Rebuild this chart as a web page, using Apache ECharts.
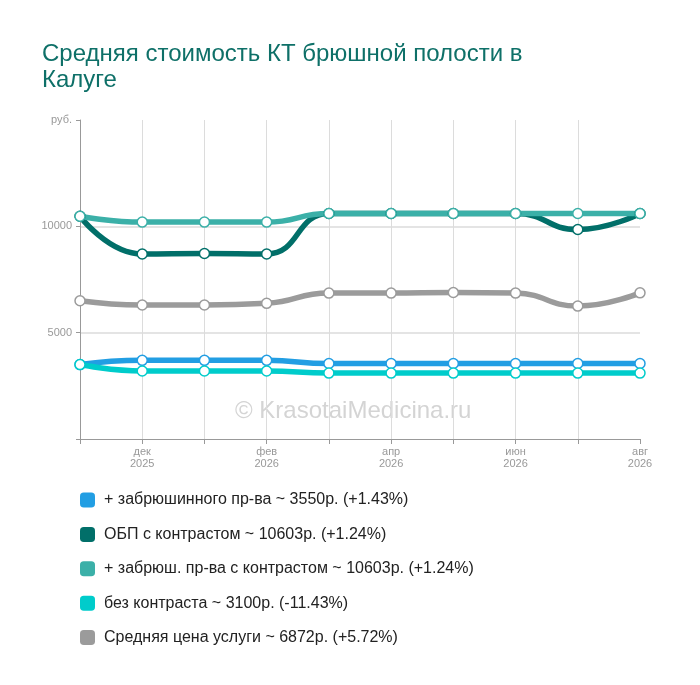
<!DOCTYPE html>
<html>
<head>
<meta charset="utf-8">
<title>КТ брюшной полости Калуга</title>
<script src="https://cdn.jsdelivr.net/npm/echarts@6/dist/echarts.min.js"></script>
<style>
  html, body { margin: 0; padding: 0; background: #fff; }
  #chart { width: 700px; height: 685px; }
</style>
</head>
<body>
<div id="chart"></div>
<script>
// месяцы по оси X
var months = ['ноя\n2025', 'дек\n2025', 'янв\n2026', 'фев\n2026', 'мар\n2026',
              'апр\n2026', 'май\n2026', 'июн\n2026', 'июл\n2026', 'авг\n2026'];

var seriesNames = [
    '+ забрюшинного пр-ва ~ 3550р. (+1.43%)',
    'ОБП с контрастом ~ 10603р. (+1.24%)',
    '+ забрюш. пр-ва с контрастом ~ 10603р. (+1.24%)',
    'без контраста ~ 3100р. (-11.43%)',
    'Средняя цена услуги ~ 6872р. (+5.72%)'
];
var seriesColors = ['#229ee3', '#016f69', '#3bb0a8', '#00cccb', '#9b9b9b'];

var retro      = [3500, 3700, 3700, 3700, 3550, 3550, 3550, 3550, 3550, 3550];
var obpContr   = [10473, 8700, 8720, 8700, 10603, 10603, 10603, 10603, 9850, 10603];
var retroContr = [10473, 10200, 10200, 10200, 10603, 10603, 10603, 10603, 10603, 10603];
var noContr    = [3500, 3200, 3200, 3200, 3100, 3100, 3100, 3100, 3100, 3100];
var avgPrice   = [6500, 6300, 6300, 6380, 6860, 6860, 6890, 6860, 6250, 6872];

var seriesData = [retro, obpContr, retroContr, noContr, avgPrice];

var font = 'Liberation Sans, Arial, sans-serif';
var chart = echarts.init(document.getElementById('chart'));

chart.setOption({
    animation: false,
    title: {
        text: 'Средняя стоимость КТ брюшной полости в\nКалуге',
        left: 37,
        top: 36,
        textStyle: { color: '#0e7068', fontSize: 24, fontWeight: 'normal', fontFamily: font, lineHeight: 26 }
    },
    legend: {
        orient: 'vertical',
        left: 75,
        top: 487,
        itemWidth: 15,
        itemHeight: 15,
        itemGap: 18.4,
        icon: 'roundRect',
        textStyle: { color: '#222', fontSize: 16, fontFamily: font, padding: [0, 0, 0, 4] },
        data: seriesNames.map(function (n, i) {
            return { name: n, itemStyle: { color: seriesColors[i], borderWidth: 0 } };
        })
    },
    graphic: [{
        type: 'text',
        left: 235,
        top: 399,
        silent: true,
        style: { text: '© KrasotaiMedicina.ru', fill: '#d4d4d4', fontSize: 24, fontFamily: font }
    }],
    grid: { left: 80, right: 60, top: 120, bottom: 246 },
    xAxis: {
        type: 'category',
        boundaryGap: false,
        data: months,
        axisLine: { lineStyle: { color: '#999' } },
        axisTick: { show: true, interval: 0, length: 5, lineStyle: { color: '#999' } },
        axisLabel: {
            interval: function (i) { return i % 2 === 1; },
            color: '#999', fontSize: 11, fontFamily: font, lineHeight: 12, margin: 7
        },
        splitLine: { show: true, interval: 0, showMinLine: false, showMaxLine: false,
                     lineStyle: { color: '#dcdcdc' } }
    },
    yAxis: {
        type: 'value',
        min: 0,
        max: 15000,
        interval: 5000,
        axisLine: { show: true, lineStyle: { color: '#999' } },
        axisTick: { show: true, length: 4, lineStyle: { color: '#999' } },
        axisLabel: {
            color: '#999', fontSize: 11, fontFamily: font, margin: 8,
            formatter: function (v) {
                if (v === 15000) return 'руб.';
                if (v === 0) return '';
                return v;
            }
        },
        splitLine: { show: true, showMinLine: false, showMaxLine: false,
                     lineStyle: { color: '#e4e4e4', width: 2 } }
    },
    series: seriesNames.map(function (n, i) {
        return {
            name: n,
            type: 'line',
            smooth: true,
            data: seriesData[i],
            symbol: 'circle',
            symbolSize: 10,
            color: seriesColors[i],
            lineStyle: { width: 5.5, color: seriesColors[i] },
            itemStyle: { color: '#fff', borderColor: seriesColors[i], borderWidth: 1.5 }
        };
    })
});
</script>
</body>
</html>
